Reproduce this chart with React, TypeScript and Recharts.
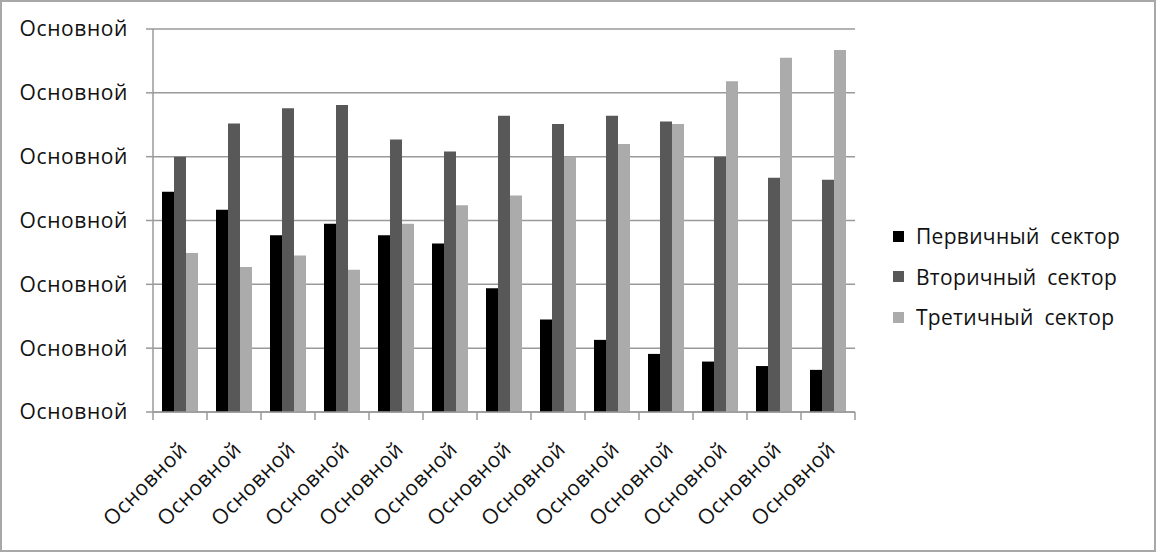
import { Bar, BarChart, CartesianGrid, Legend, XAxis, YAxis } from "recharts";

const categories = [
  "Основной", "Основной", "Основной", "Основной", "Основной", "Основной", "Основной",
  "Основной", "Основной", "Основной", "Основной", "Основной", "Основной",
];
const primary = [3.45, 3.17, 2.77, 2.95, 2.77, 2.64, 1.94, 1.45, 1.13, 0.91, 0.79, 0.72, 0.66];
const secondary = [4.0, 4.52, 4.76, 4.81, 4.27, 4.08, 4.64, 4.51, 4.64, 4.55, 4.0, 3.67, 3.64];
const tertiary = [2.49, 2.27, 2.45, 2.23, 2.95, 3.24, 3.39, 4.0, 4.2, 4.51, 5.18, 5.55, 5.67];
const yTicks = [0, 1, 2, 3, 4, 5, 6];
const yTickLabel = "Основной";

const seriesNames = ["Первичный сектор", "Вторичный сектор", "Третичный сектор"];
const colors = ["#000000", "#585858", "#ababab"];

const data = categories.map((c, i) => ({
  name: c,
  primary: primary[i],
  secondary: secondary[i],
  tertiary: tertiary[i],
}));

const font = "'Open Sans', sans-serif";
const axisGray = "#9a9a9a";
const textColor = "#111";

function XTick(props: any) {
  const { x, y, payload, index } = props;
  const half = payload?.offset ?? 27;
  const ax = x + 3;
  const ay = y + 25;
  return (
    <g>
      <line x1={x - half} y1={y - 8} x2={x - half} y2={y} stroke={axisGray} strokeWidth={1.5} />
      {index === categories.length - 1 && (
        <line x1={x + half} y1={y - 8} x2={x + half} y2={y} stroke={axisGray} strokeWidth={1.5} />
      )}
      <text
        x={ax}
        y={ay}
        transform={`rotate(-45 ${ax} ${ay})`}
        textAnchor="end"
        dominantBaseline="central"
        fontFamily={font}
        fontSize={21}
        letterSpacing={0.6}
        fill={textColor}
      >
        {payload.value}
      </text>
    </g>
  );
}

function LegendBox() {
  return (
    <div style={{ fontFamily: font, fontSize: 21, color: textColor, letterSpacing: 0.3 }}>
      {seriesNames.map((n, i) => (
        <div key={n} style={{ display: "flex", alignItems: "center", height: 40.5 }}>
          <span style={{ width: 11, height: 11, background: colors[i], marginRight: 12 }} />
          <span style={{ wordSpacing: 5, whiteSpace: "nowrap" }}>{n}</span>
        </div>
      ))}
    </div>
  );
}

export default function App() {
  return (
    <div
      style={{
        position: "fixed",
        left: 0,
        top: 0,
        width: 1156,
        height: 552,
        boxSizing: "border-box",
        border: "2px solid #a8a8a8",
        background: "#fff",
      }}
    >
      <div style={{ position: "absolute", left: -2, top: -2 }}>
        <BarChart
          width={1156}
          height={552}
          data={data}
          margin={{ top: 29, right: 301, bottom: 0, left: 0 }}
          barCategoryGap={18}
          barGap={0}
        >
          <CartesianGrid vertical={false} stroke={axisGray} strokeWidth={1.5} />
          <XAxis
            dataKey="name"
            height={140}
            interval={0}
            tickLine={false}
            axisLine={{ stroke: axisGray, strokeWidth: 1.5 }}
            tick={<XTick />}
          />
          <YAxis
            width={153}
            domain={[0, 6]}
            ticks={yTicks}
            interval={0}
            tickSize={7}
            tickMargin={18}
            axisLine={{ stroke: axisGray, strokeWidth: 1.5 }}
            tickLine={{ stroke: axisGray, strokeWidth: 1.5 }}
            tickFormatter={() => yTickLabel}
            tick={{ fontFamily: font, fontSize: 21, fill: textColor, letterSpacing: 0.6 }}
          />
          <Legend
            layout="vertical"
            align="center"
            verticalAlign="middle"
            content={<LegendBox />}
            wrapperStyle={{ left: 893, top: 216, width: 255 }}
          />
          <Bar dataKey="primary" name={seriesNames[0]} fill={colors[0]} barSize={12} isAnimationActive={false} />
          <Bar dataKey="secondary" name={seriesNames[1]} fill={colors[1]} barSize={12} isAnimationActive={false} />
          <Bar dataKey="tertiary" name={seriesNames[2]} fill={colors[2]} barSize={12} isAnimationActive={false} />
        </BarChart>
      </div>
    </div>
  );
}
